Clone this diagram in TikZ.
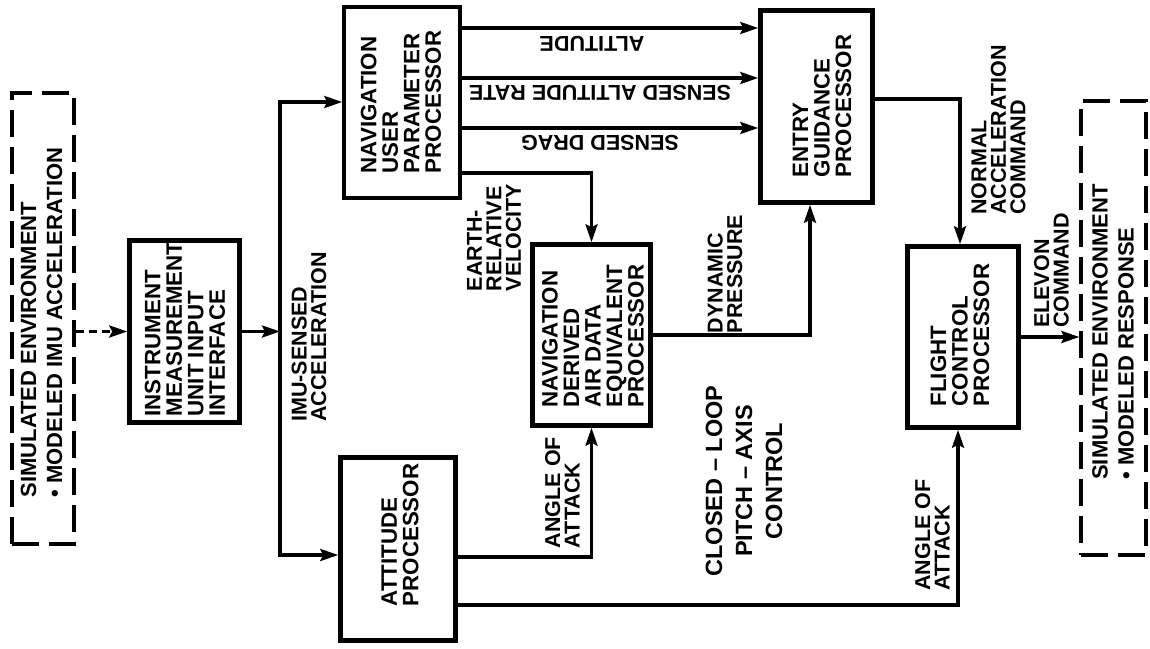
\documentclass[tikz,border=0pt]{standalone}
\usepackage{fontspec}
\setmainfont{Liberation Sans}
\usetikzlibrary{arrows.meta}
\begin{document}
\begin{tikzpicture}[x=1pt,y=-1pt,
  box/.style={draw, line width=4.5pt, inner sep=0pt},
  thinbox/.style={draw, line width=3.5pt, inner sep=0pt},
  envbox/.style={draw, line width=3.3pt, dash pattern=on 27pt off 10pt, inner sep=0pt},
  txt/.style={rotate=90, align=left, inner sep=0pt, font=\bfseries\fontsize{22.3}{21.5}\selectfont},
  lbl/.style={rotate=90, align=left, inner sep=0pt, font=\bfseries\fontsize{21.5}{19.5}\selectfont},
  udlbl/.style={rotate=180, inner sep=0pt, font=\bfseries\fontsize{21.5}{21}\selectfont},
  envtxt/.style={rotate=90, align=left, inner sep=0pt, font=\bfseries\fontsize{22}{26}\selectfont},
  bigtxt/.style={rotate=90, align=center, inner sep=0pt, font=\bfseries\fontsize{23.5}{30}\selectfont},
  conn/.style={line width=3.2pt},
  arr/.style={conn, -{Stealth[length=18pt,width=12pt,inset=3pt]}},
  dasharr/.style={arr, dash pattern=on 8pt off 5pt},
]
\useasboundingbox (0,0) rectangle (1150,648);

% boxes
\node[envbox, minimum width=62pt, minimum height=451pt] (envL) at (43,318.5) {};
\node[envbox, minimum width=65pt, minimum height=454pt] (envR) at (1113.5,328) {};
\node[box, minimum width=110pt, minimum height=182pt] (imu) at (184.5,331.5) {};
\node[thinbox, minimum width=116pt, minimum height=191pt] (nup) at (402,102.5) {};
\node[box, minimum width=115pt, minimum height=183pt] (att) at (398,549) {};
\node[box, minimum width=118pt, minimum height=181pt] (nder) at (591.5,335) {};
\node[box, minimum width=112pt, minimum height=192pt] (egp) at (816.5,106.5) {};
\node[box, minimum width=111pt, minimum height=181pt] (fcp) at (963,337) {};

% box texts
\node[envtxt] (envLt) at (41.5,322.5) {SIMULATED ENVIRONMENT\\\textbullet\ MODELED IMU ACCELERATION};
\node[envtxt] (envRt) at (1113,332) {SIMULATED ENVIRONMENT\\\textbullet\ MODELED RESPONSE};
\node[txt] (imut) at (185,329) {INSTRUMENT\\MEASUREMENT\\UNIT INPUT\\INTERFACE};
\node[txt] (nupt) at (401,102) {NAVIGATION\\USER\\PARAMETER\\PROCESSOR};
\node[txt] (attt) at (400,535) {ATTITUDE\\PROCESSOR};
\node[txt] (ndert) at (593,336) {NAVIGATION\\DERIVED\\AIR DATA\\EQUIVALENT\\PROCESSOR};
\node[txt] (egpt) at (822,106) {ENTRY\\GUIDANCE\\PROCESSOR};
\node[txt] (fcpt) at (960,335) {FLIGHT\\CONTROL\\PROCESSOR};

% labels
\node[lbl] (limu) at (309,337) {IMU-SENSED\\ACCELERATION};
\node[lbl] (lerv) at (494,237.5) {EARTH-\\RELATIVE\\VELOCITY};
\node[lbl] (ldp) at (725,274) {DYNAMIC\\PRESSURE};
\node[lbl] (laoa1) at (562.5,492.5) {ANGLE OF\\ATTACK};
\node[lbl] (lnac) at (998.5,130) {NORMAL\\ACCELERATION\\COMMAND};
\node[lbl] (lelev) at (1051.5,270.5) {ELEVON\\COMMAND};
\node[lbl] (laoa2) at (932.5,535) {ANGLE OF\\ATTACK};
\node[udlbl] (lalt) at (592,44) {ALTITUDE};
\node[udlbl] (lsar) at (600,93) {SENSED ALTITUDE RATE};
\node[udlbl] (lsd) at (600,143) {SENSED DRAG};
\node[bigtxt] (lcl) at (744,481) {CLOSED \textendash\ LOOP\\PITCH \textendash\ AXIS\\CONTROL};

% coordinates
\coordinate (vtop) at (280,102);
\coordinate (vbot) at (280,555);
\coordinate (yalt) at (0,28);
\coordinate (ysar) at (0,78);
\coordinate (ysd) at (0,128);
\coordinate (yev) at (0,173);
\coordinate (xdp) at (810,0);
\coordinate (yna) at (0,99);
\coordinate (xna) at (960,0);
\coordinate (ya1) at (0,557);
\coordinate (ya2) at (0,605);
\coordinate (xa2) at (958,0);

% connectors
\draw[dasharr] (envL.east |- imu.west) -- (imu.west);
\draw[arr] (imu.east) -- (imu.east -| vtop);
\draw[arr] (vbot) -- (vtop) -- (vtop -| nup.west);
\draw[arr] (vtop) -- (vbot) -- (vbot -| att.west);
\draw[arr] (nup.east |- yalt) -- (egp.west |- yalt);
\draw[arr] (nup.east |- ysar) -- (egp.west |- ysar);
\draw[arr] (nup.east |- ysd) -- (egp.west |- ysd);
\draw[arr] (nup.east |- yev) -- (nder.north |- yev) -- (nder.north);
\draw[arr] (nder.east) -- (nder.east -| xdp) -- (egp.south -| xdp);
\draw[arr] (egp.east |- yna) -- (xna |- yna) -- (xna |- fcp.north);
\draw[arr] (att.east |- ya1) -- (nder.south |- ya1) -- (nder.south);
\draw[arr] (att.east |- ya2) -- (xa2 |- ya2) -- (xa2 |- fcp.south);
\draw[arr] (fcp.east) -- (envR.west |- fcp.east);
\end{tikzpicture}
\end{document}
